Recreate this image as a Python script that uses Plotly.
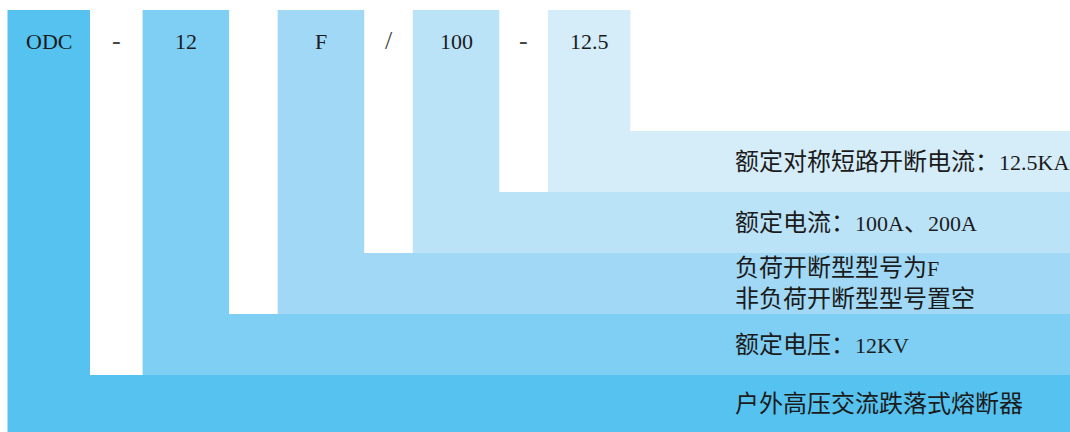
import re
import plotly.graph_objects as go

# ---- data ----
codes = ["ODC", "12", "F", "100", "12.5"]
separators = ["-", "", "/", "-"]
descriptions = [
    "户外高压交流跌落式熔断器",
    "额定电压：12KV",
    "负荷开断型型号为F<br>非负荷开断型型号置空",
    "额定电流：100A、200A",
    "额定对称短路开断电流：12.5KA",
]
colors = ["#55C2F0", "#7FCEF3", "#A0D8F5", "#BBE3F8", "#D5ECF9"]

# ---- layout constants ----
W, H = 1070, 432
col_x0 = 7.5
col_step = 135.1
col_w = 82.5
col_top = 10
band_base = 375
band_h = 61
desc_x = 733
label_y = 41
font_family = "Liberation Serif, Noto Sans CJK SC, serif"
text_color = "#1b1b1b"


def latin_small(s, size):
    # render Latin runs a bit smaller than CJK glyphs, as in the reference
    parts = s.split("<br>")
    parts = [re.sub(r"([0-9A-Za-z.]+)",
                    lambda m: f"<span style='font-size:{size}px'>{m.group(1)}</span>", p)
             for p in parts]
    return "<br>".join(parts)


fig = go.Figure()
annotations = []
n = len(codes)
for i in range(n):
    x0 = col_x0 + col_step * i
    x1 = x0 + col_w + (4 if i in (1, 2, 3) else 0)
    b_top = band_base - band_h * i
    b_bot = H if i == 0 else band_base - band_h * (i - 1)
    xs = [x0, x1, x1, W, W, x0, x0]
    ys = [col_top, col_top, b_top, b_top, b_bot, b_bot, col_top]
    fig.add_trace(go.Scatter(x=xs, y=ys, mode="lines", fill="toself",
                             fillcolor=colors[i], line=dict(width=0),
                             hoverinfo="skip", showlegend=False))
    annotations.append(dict(x=(x0 + x1) / 2, y=label_y, text=codes[i],
                            showarrow=False, xanchor="center", yanchor="middle",
                            font=dict(size=22, color=text_color, family=font_family)))
    annotations.append(dict(x=desc_x, y=(b_top + b_bot) / 2,
                            text=latin_small(descriptions[i], 22),
                            showarrow=False, xanchor="left", yanchor="middle",
                            align="left",
                            font=dict(size=24, color=text_color, family=font_family)))
    if i < n - 1 and separators[i]:
        sx = x1 + (col_x0 + col_step * (i + 1) - x1) / 2
        annotations.append(dict(x=sx, y=label_y - 1, text=separators[i],
                                showarrow=False, xanchor="center", yanchor="middle",
                                font=dict(size=26, color="#444444", family=font_family)))

fig.update_layout(
    width=W, height=H, autosize=False,
    margin=dict(l=0, r=0, t=0, b=0),
    paper_bgcolor="white", plot_bgcolor="white",
    xaxis=dict(range=[0, W], visible=False, fixedrange=True),
    yaxis=dict(range=[H, 0], visible=False, fixedrange=True),
    annotations=annotations,
)
fig.write_html("out.html", config={"displayModeBar": False},
               post_script="document.body.style.margin='0';document.body.style.overflow='hidden';")
